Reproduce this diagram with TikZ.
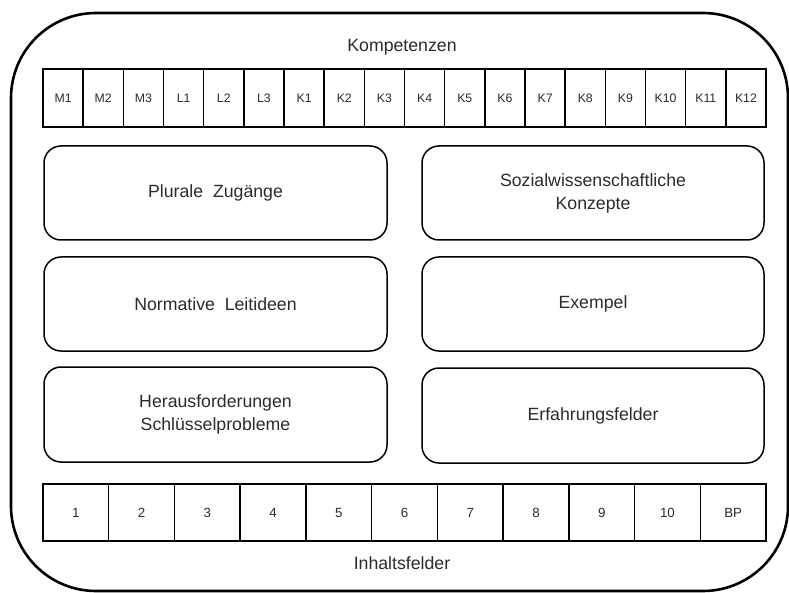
\documentclass[tikz,border=0pt]{standalone}
\usepackage{fontspec}
\setmainfont{Liberation Sans}
\definecolor{txt}{HTML}{2B2B2B}
\begin{document}
\begin{tikzpicture}[x=1pt,y=-1pt,
  frame/.style={draw, line width=2.6pt, rounded corners=85pt},
  cell/.style={draw, line width=1.5pt, inner sep=0pt, text=txt,
    font=\fontsize{12.3}{14}\selectfont},
  fcell/.style={draw, line width=1.5pt, inner sep=0pt, text=txt,
    font=\fontsize{13.3}{15}\selectfont},
  box/.style={draw, line width=1.5pt, rounded corners=17pt, inner sep=0pt,
    align=center, text=txt, font=\fontsize{17.7}{23}\selectfont},
  title/.style={text=txt, inner sep=0pt, font=\fontsize{17.7}{21}\selectfont}]
\useasboundingbox (0,0) rectangle (789,593);
\node[frame, minimum width=777pt, minimum height=578pt] (outer) at (399.5,302) {};
\node[title] (komp) at (402,47) {Kompetenzen};
\node[title] (inh) at (402,563) {Inhaltsfelder};
\foreach \l [count=\i] in {M1,M2,M3,L1,L2,L3,K1,K2,K3,K4,K5,K6,K7,K8,K9,K10,K11,K12}
  \node[cell, minimum width=40.17pt, minimum height=58pt] (c\i) at ({43+40.17*(\i-0.5)},98) {\l};
\foreach \l [count=\i] in {1,2,3,4,5,6,7,8,9,10,BP}
  \node[fcell, minimum width=65.73pt, minimum height=57pt] (f\i) at ({43+65.73*(\i-0.5)},512.5) {\l};
\node[box, minimum width=343pt, minimum height=94pt] (plur) at (215.5,193) {Plurale~ Zugänge};
\node[box, minimum width=342pt, minimum height=94pt] (sozi) at (593,193) {Sozialwissenschaftliche\\Konzepte};
\node[box, minimum width=343pt, minimum height=94pt] (norm) at (215.5,304) {Normative~ Leitideen};
\node[box, minimum width=342pt, minimum height=94pt] (exem) at (593,304) {Exempel};
\node[box, minimum width=343pt, minimum height=95pt] (hera) at (215.5,414.5) {Herausforderungen\\Schlüsselprobleme};
\node[box, minimum width=342pt, minimum height=95pt] (erfa) at (593,415.5) {Erfahrungsfelder};
\end{tikzpicture}
\end{document}
